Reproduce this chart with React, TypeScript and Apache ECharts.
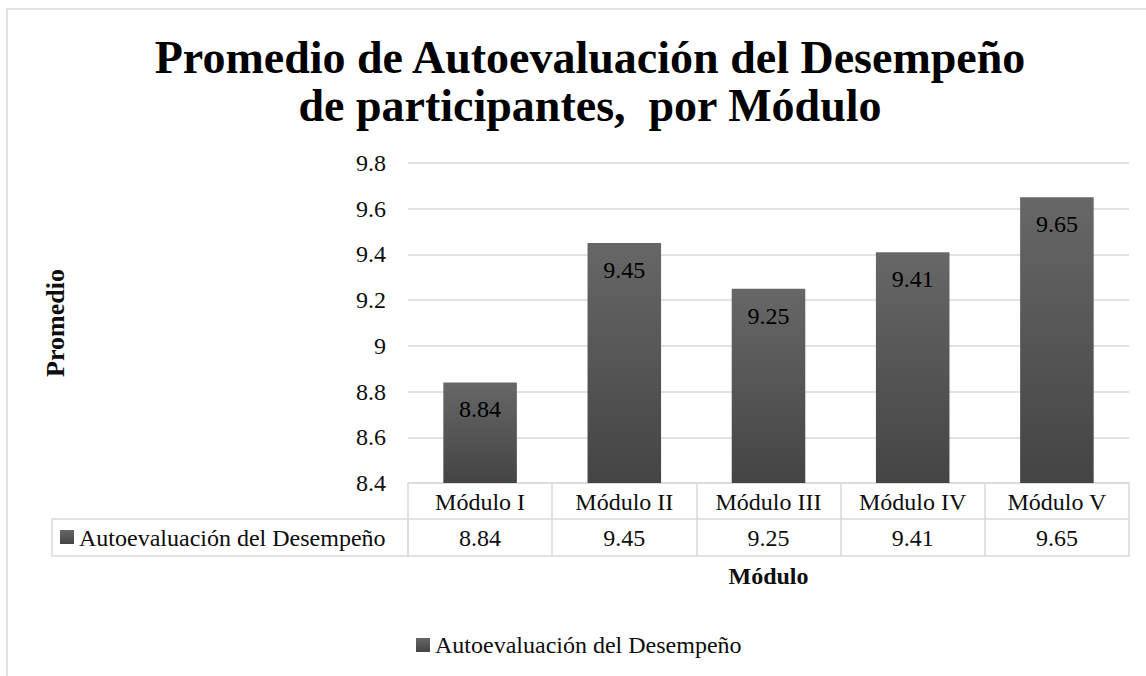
import React, { useEffect, useRef } from "react";
import * as echarts from "echarts";

const titleLines = ["Promedio de Autoevaluación del Desempeño", "de participantes,  por Módulo"];
const categories = ["Módulo I", "Módulo II", "Módulo III", "Módulo IV", "Módulo V"];
const values = [8.84, 9.45, 9.25, 9.41, 9.65];
const seriesName = "Autoevaluación del Desempeño";
const yAxisName = "Promedio";
const xAxisName = "Módulo";
const yMin = 8.4;
const yMax = 9.8;
const yStep = 0.2;

const FONT = "'Liberation Serif', 'Times New Roman', serif";
const GRID_COLOR = "#d9d9d9";
const TEXT = "#0d0d0d";

export default function App() {
  const ref = useRef<HTMLDivElement>(null);

  useEffect(() => {
    if (!ref.current) return;
    const chart = echarts.init(ref.current, undefined, { renderer: "svg" });
    const barGradient = new echarts.graphic.LinearGradient(0, 0, 0, 1, [
      { offset: 0, color: "#676767" },
      { offset: 1, color: "#444444" },
    ]);
    const iconGradient = new echarts.graphic.LinearGradient(0, 0, 0, 1, [
      { offset: 0, color: "#676767" },
      { offset: 1, color: "#444444" },
    ]);

    const baseX = {
      type: "category" as const,
      data: categories,
      position: "bottom" as const,
      boundaryGap: true,
    };

    chart.setOption({
      animation: false,
      backgroundColor: "#ffffff",
      title: {
        text: titleLines.join("\n"),
        left: 585,
        top: 28,
        textAlign: "center",
        textStyle: {
          fontFamily: FONT,
          fontWeight: "bold",
          fontSize: 46,
          lineHeight: 48,
          color: "#000",
        },
      },
      grid: { left: 408, right: 17, top: 163, bottom: 193, containLabel: false },
      legend: {
        data: [seriesName],
        left: 416,
        top: 633,
        padding: 0,
        icon: "rect",
        itemWidth: 14,
        itemHeight: 14,
        textStyle: { fontFamily: FONT, fontSize: 24, color: TEXT },
      },
      xAxis: [
        {
          ...baseX,
          axisLine: { show: true, onZero: false, lineStyle: { color: GRID_COLOR, width: 1.5 } },
          axisTick: { show: true, length: 73, lineStyle: { color: GRID_COLOR, width: 1.5 } },
          axisLabel: { margin: 7, fontFamily: FONT, fontSize: 24, color: TEXT },
          splitLine: { show: false },
        },
        {
          ...baseX,
          offset: 36,
          axisLine: { show: true, onZero: false, lineStyle: { color: GRID_COLOR, width: 1.5 } },
          axisTick: { show: false },
          axisLabel: {
            margin: 7,
            fontFamily: FONT,
            fontSize: 24,
            color: TEXT,
            formatter: (_v: string, i: number) => String(values[i]),
          },
          splitLine: { show: false },
        },
        {
          ...baseX,
          offset: 73,
          axisLine: { show: true, onZero: false, lineStyle: { color: GRID_COLOR, width: 1.5 } },
          axisTick: { show: false },
          axisLabel: { show: false },
          splitLine: { show: false },
          name: xAxisName,
          nameLocation: "middle",
          nameGap: 8,
          nameTextStyle: { fontFamily: FONT, fontWeight: "bold", fontSize: 24, color: TEXT },
        },
      ],
      yAxis: {
        type: "value",
        min: yMin,
        max: yMax,
        interval: yStep,
        axisLine: { show: false },
        axisTick: { show: false },
        axisLabel: {
          margin: 22,
          fontFamily: FONT,
          fontSize: 24,
          color: TEXT,
          formatter: (v: number) => String(+v.toFixed(1)),
        },
        splitLine: { lineStyle: { color: GRID_COLOR, width: 1.5 } },
        name: yAxisName,
        nameLocation: "middle",
        nameRotate: 90,
        nameGap: 340,
        nameTextStyle: { fontFamily: FONT, fontWeight: "bold", fontSize: 26, color: TEXT },
      },
      series: [
        {
          name: seriesName,
          type: "bar",
          xAxisIndex: 0,
          data: values,
          barWidth: "51%",
          itemStyle: { color: barGradient },
          label: {
            show: true,
            position: "insideTop",
            distance: 15,
            fontFamily: FONT,
            fontSize: 24,
            color: "#000",
          },
        },
      ],
      graphic: [
        {
          type: "rect",
          shape: { x: 7, y: 9, width: 1300, height: 900 },
          style: { fill: "none", stroke: GRID_COLOR, lineWidth: 1.5 },
          silent: true,
        },
        {
          type: "rect",
          shape: { x: 52, y: 519, width: 356, height: 37 },
          style: { fill: "none", stroke: GRID_COLOR, lineWidth: 1.5 },
          silent: true,
        },
        {
          type: "rect",
          shape: { x: 60, y: 530, width: 14, height: 14 },
          style: { fill: iconGradient },
          silent: true,
        },
        {
          type: "text",
          x: 79,
          y: 538,
          style: {
            text: seriesName,
            fontFamily: FONT,
            fontSize: 24,
            fill: TEXT,
            verticalAlign: "middle",
            align: "left",
          },
          silent: true,
        },
      ],
    });
    return () => chart.dispose();
  }, []);

  return (
    <div
      ref={ref}
      style={{ position: "absolute", left: 0, top: 0, width: 1146, height: 676 }}
    />
  );
}
